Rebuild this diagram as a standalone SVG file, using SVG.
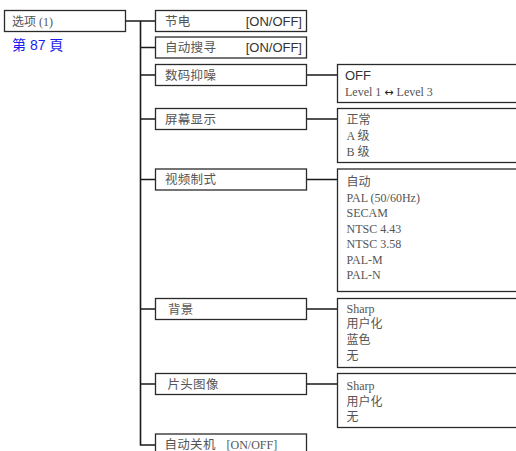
<svg xmlns="http://www.w3.org/2000/svg" width="516" height="451" viewBox="0 0 516 451">
<style>
.box{fill:#fff;stroke:#2a2a2a;stroke-width:1.3}
.ln{fill:none;stroke:#1a1a1a;stroke-width:1.6}
.t{font-family:"Noto Sans CJK SC","Liberation Sans",sans-serif;font-size:12.5px;fill:#555;letter-spacing:0.3px}
.a{font-family:"Liberation Sans",sans-serif;font-size:13px;fill:#333}
.s{font-family:"Liberation Serif","Noto Sans CJK SC",serif;font-size:12px;fill:#555}
.c{font-family:"Noto Sans CJK SC",sans-serif}
.blue{font-family:"Liberation Sans","Noto Sans CJK SC",sans-serif;font-size:14px;fill:#1c1cf0}
</style>
<rect x="0" y="0" width="516" height="451" fill="#fff"/>
<g id="connectors">
<path class="ln" d="M126 21H155.5M140.5 21V445H155.5M140.5 47.5H155.5M140.5 75H155.5M140.5 119H155.5M140.5 179.5H155.5M140.5 309H155.5M140.5 384H155.5"/>
<path class="ln" d="M306.5 75H337.5M306.5 119H337.5M306.5 179.5H337.5M306.5 309H337.5M306.5 384H337.5"/>
</g>
<g id="root">
<rect class="box" x="4.5" y="10.5" width="121" height="21"/>
<text class="s" x="12" y="25.5" font-size="12.5"><tspan class="c" font-size="12">选项</tspan> (1)</text>
<text class="blue" x="12" y="50">第 87 頁</text>
</g>
<g id="n-jiedian">
<rect class="box" x="155.5" y="10.5" width="151" height="21"/>
<text class="t" x="165" y="25.5">节电</text>
<text class="a" x="302" y="25.5" text-anchor="end">[ON/OFF]</text>
</g>
<g id="n-search">
<rect class="box" x="155.5" y="37" width="151" height="21"/>
<text class="t" x="165" y="52">自动搜寻</text>
<text class="a" x="302" y="52" text-anchor="end">[ON/OFF]</text>
</g>
<g id="n-noise">
<rect class="box" x="155.5" y="64.5" width="151" height="21"/>
<text class="t" x="165" y="79.5">数码抑噪</text>
</g>
<g id="n-noise-opts">
<rect class="box" x="337.5" y="64.5" width="200" height="38"/>
<text class="a" x="345" y="80">OFF</text>
<text class="s" x="345" y="96">Level 1 <tspan font-family="DejaVu Sans" font-size="11" fill="#222">↔</tspan> Level 3</text>
</g>
<g id="n-osd">
<rect class="box" x="155.5" y="108.5" width="151" height="21"/>
<text class="t" x="165" y="123.5">屏幕显示</text>
</g>
<g id="n-osd-opts">
<rect class="box" x="337.5" y="108.5" width="200" height="54"/>
<text class="s" x="346.5" y="124"><tspan class="c">正常</tspan></text>
<text class="s" x="346.5" y="140">A <tspan class="c">级</tspan></text>
<text class="s" x="346.5" y="156">B <tspan class="c">级</tspan></text>
</g>
<g id="n-video">
<rect class="box" x="155.5" y="169" width="151" height="21"/>
<text class="t" x="165" y="184">视频制式</text>
</g>
<g id="n-video-opts">
<rect class="box" x="337.5" y="169" width="200" height="122.5"/>
<text class="s" x="346.5" y="186"><tspan class="c">自动</tspan></text>
<text class="s" x="346.5" y="201.5">PAL (50/60Hz)</text>
<text class="s" x="346.5" y="217">SECAM</text>
<text class="s" x="346.5" y="232.5">NTSC 4.43</text>
<text class="s" x="346.5" y="248">NTSC 3.58</text>
<text class="s" x="346.5" y="263.5">PAL-M</text>
<text class="s" x="346.5" y="279">PAL-N</text>
</g>
<g id="n-bg">
<rect class="box" x="155.5" y="298.5" width="151" height="21"/>
<text class="t" x="168" y="313.5">背景</text>
</g>
<g id="n-bg-opts">
<rect class="box" x="337.5" y="298.5" width="200" height="69"/>
<text class="s" x="346.5" y="312.5">Sharp</text>
<text class="s" x="346.5" y="328"><tspan class="c">用户化</tspan></text>
<text class="s" x="346.5" y="344"><tspan class="c">蓝色</tspan></text>
<text class="s" x="346.5" y="360"><tspan class="c">无</tspan></text>
</g>
<g id="n-startup">
<rect class="box" x="155.5" y="373.5" width="151" height="21"/>
<text class="t" x="167.5" y="388.5">片头图像</text>
</g>
<g id="n-startup-opts">
<rect class="box" x="337.5" y="373.5" width="200" height="54"/>
<text class="s" x="346.5" y="390">Sharp</text>
<text class="s" x="346.5" y="405.5"><tspan class="c">用户化</tspan></text>
<text class="s" x="346.5" y="421"><tspan class="c">无</tspan></text>
</g>
<g id="n-autooff">
<rect class="box" x="155.5" y="434" width="151" height="30"/>
<text class="t" x="164.5" y="448.5">自动关机</text>
<text class="s" x="226.5" y="448.5" font-size="12.5">[ON/OFF]</text>
</g>
</svg>
